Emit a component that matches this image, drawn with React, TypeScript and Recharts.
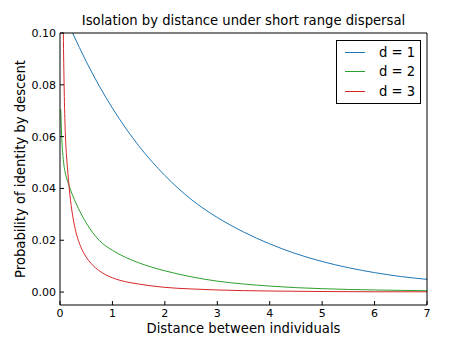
import { LineChart, Line, XAxis, YAxis, Legend } from "recharts"

// values, one pair of lists per curve
const d1Dist = [0.24, 0.5, 0.75, 1, 1.5, 2, 2.5, 3, 3.5, 4, 4.5, 5, 5.5, 6, 6.5, 7]
const d1Prob = [0.1, 0.089, 0.0795, 0.071, 0.0565, 0.045, 0.0358, 0.0288, 0.0232, 0.0186, 0.0148, 0.0118, 0.0094, 0.0075, 0.006, 0.0049]

const d2Dist = [0.015, 0.03, 0.05, 0.075, 0.1, 0.15, 0.2, 0.3, 0.4, 0.5, 0.75, 1, 1.25, 1.5, 1.75, 2, 2.5, 3, 3.5, 4, 4.5, 5, 5.5, 6, 6.5, 7]
const d2Prob = [0.0705, 0.061, 0.054, 0.049, 0.046, 0.0425, 0.0395, 0.0345, 0.0303, 0.0267, 0.0199, 0.0161, 0.0134, 0.0113, 0.0096, 0.0082, 0.0059, 0.0042, 0.0031, 0.0023, 0.0017, 0.0013, 0.001, 0.0008, 0.00065, 0.0005]

const d3Dist = [0.063, 0.08, 0.1, 0.125, 0.15, 0.2, 0.25, 0.3, 0.4, 0.5, 0.6, 0.75, 1, 1.25, 1.5, 2, 2.5, 3, 4, 5, 6, 7]
const d3Prob = [0.1, 0.078, 0.062, 0.0525, 0.046, 0.0355, 0.0285, 0.0235, 0.0173, 0.0135, 0.0109, 0.0082, 0.0055, 0.004, 0.0031, 0.0018, 0.0012, 0.0008, 0.0004, 0.0002, 0.0001, 0.0001]

const seriesNames = ["d = 1", "d = 2", "d = 3"]
const seriesColors = ["#1f77b4", "#2ca02c", "#d62728"]

const xTicks = [0, 1, 2, 3, 4, 5, 6, 7]
const yTicks = [0, 0.02, 0.04, 0.06, 0.08, 0.1]

const toPoints = (xs: number[], ys: number[]) => xs.map((x, i) => ({ x, y: ys[i] }))

const FONT = "DejaVu Sans, sans-serif"

function renderLegend() {
  return (
    <div
      style={{
        border: "1px solid #000",
        background: "#fff",
        padding: "2px 0",
        fontFamily: FONT,
        fontSize: 13.2,
        color: "#000",
      }}
    >
      {seriesNames.map((name, i) => (
        <div key={name} style={{ display: "flex", alignItems: "center", height: 19.3 }}>
          <svg width={20} height={3} style={{ marginLeft: 8, marginRight: 14, display: "block" }}>
            <line x1={0} y1={1.5} x2={20} y2={1.5} stroke={seriesColors[i]} strokeWidth={1} />
          </svg>
          <span>{name}</span>
        </div>
      ))}
    </div>
  )
}

export default function App() {
  const tickStyle = { fontSize: 11, fill: "#000", fontFamily: FONT }
  const labelStyle = { fontSize: 13.2, fill: "#000", fontFamily: FONT }
  const d1 = toPoints(d1Dist, d1Prob)
  return (
    <div style={{ position: "absolute", left: 0, top: 0, width: 474, height: 339, background: "#fff" }}>
      <LineChart width={474} height={339} margin={{ top: 32, right: 46, bottom: 0, left: 0 }}>
        <XAxis
          dataKey="x"
          type="number"
          domain={[0, 7]}
          ticks={xTicks}
          height={34}
          stroke="#000"
          tickSize={-4}
          tickMargin={8}
          tick={tickStyle}
          allowDataOverflow
          label={{ value: "Distance between individuals", position: "insideBottom", offset: 6, style: labelStyle }}
        />
        <XAxis
          xAxisId="top"
          dataKey="x"
          orientation="top"
          type="number"
          domain={[0, 7]}
          ticks={xTicks}
          height={1}
          stroke="#000"
          tickSize={-4}
          tick={false}
          allowDataOverflow
          label={{
            value: "Isolation by distance under short range dispersal",
            position: "top",
            offset: 7,
            style: labelStyle,
          }}
        />
        <YAxis
          type="number"
          domain={[-0.005, 0.1]}
          ticks={yTicks}
          width={60}
          stroke="#000"
          tickSize={-4}
          tickMargin={8}
          tick={tickStyle}
          tickFormatter={(v: number) => v.toFixed(2)}
          allowDataOverflow
          label={{
            value: "Probability of identity by descent",
            content: ({ viewBox }: any) => {
              const cx = viewBox.x + 20
              const cy = viewBox.y + viewBox.height / 2
              return (
                <text
                  x={cx}
                  y={cy}
                  transform={`rotate(-90, ${cx}, ${cy})`}
                  textAnchor="middle"
                  dominantBaseline="central"
                  style={labelStyle}
                >
                  Probability of identity by descent
                </text>
              )
            },
          }}
        />
        <YAxis
          yAxisId="right"
          orientation="right"
          type="number"
          domain={[-0.005, 0.1]}
          ticks={yTicks}
          width={1}
          stroke="#000"
          tickSize={-4}
          tick={false}
          allowDataOverflow
        />
        <Legend
          content={renderLegend}
          layout="horizontal"
          verticalAlign="middle"
          align="center"
          wrapperStyle={{ left: 336, top: 40, width: 85 }}
        />
        {/* invisible copy so the top and right frame axes have a series */}
        <Line
          data={d1}
          dataKey="y"
          xAxisId="top"
          yAxisId="right"
          stroke="none"
          legendType="none"
          dot={false}
          isAnimationActive={false}
        />
        <Line
          data={d1}
          dataKey="y"
          name={seriesNames[0]}
          type="monotone"
          stroke={seriesColors[0]}
          strokeWidth={1}
          dot={false}
          isAnimationActive={false}
        />
        <Line
          data={toPoints(d2Dist, d2Prob)}
          dataKey="y"
          name={seriesNames[1]}
          type="monotone"
          stroke={seriesColors[1]}
          strokeWidth={1}
          dot={false}
          isAnimationActive={false}
        />
        <Line
          data={toPoints(d3Dist, d3Prob)}
          dataKey="y"
          name={seriesNames[2]}
          type="monotone"
          stroke={seriesColors[2]}
          strokeWidth={1}
          dot={false}
          isAnimationActive={false}
        />
      </LineChart>
    </div>
  )
}
